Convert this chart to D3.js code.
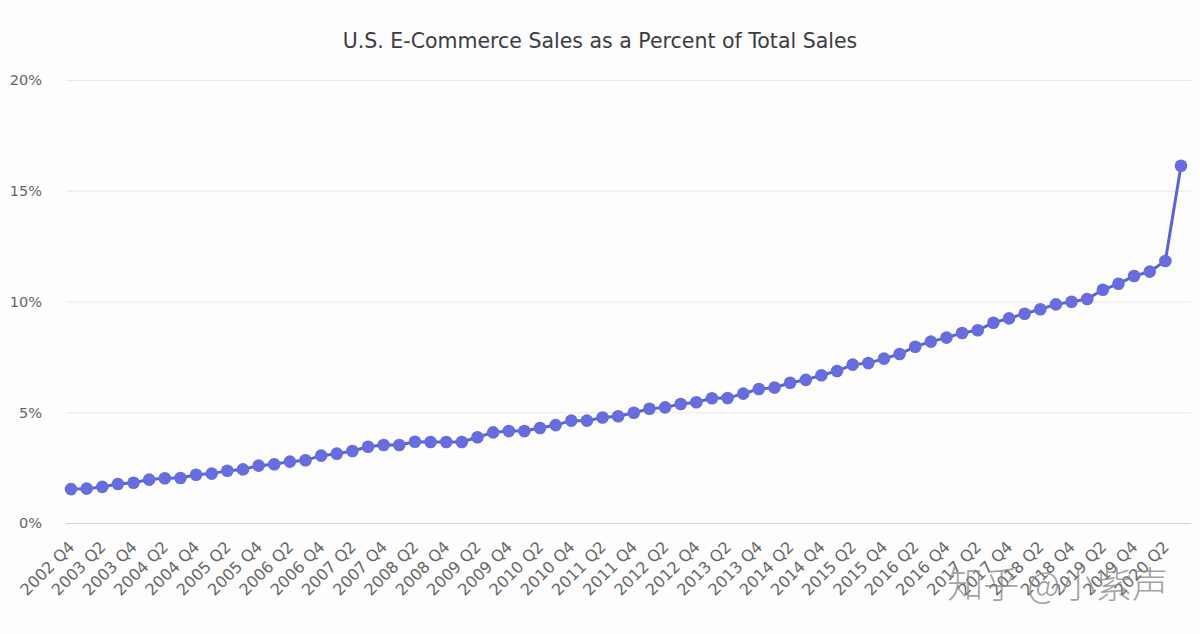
<!DOCTYPE html>
<html>
<head>
<meta charset="utf-8">
<title>U.S. E-Commerce Sales as a Percent of Total Sales</title>
<script src="https://d3js.org/d3.v7.min.js"></script>
<style>
    html, body { margin: 0; padding: 0; background: #fdfdfe; }
    svg { display: block; }
    text { font-family: "DejaVu Sans", sans-serif; }
</style>
</head>
<body>
<div id="svg"></div>
<script>
var titleText = 'U.S. E-Commerce Sales as a Percent of Total Sales';
var watermarkText = '知乎 @小紫声';

var quarters = [
    '2002 Q4',
    '2003 Q1', '2003 Q2', '2003 Q3', '2003 Q4',
    '2004 Q1', '2004 Q2', '2004 Q3', '2004 Q4',
    '2005 Q1', '2005 Q2', '2005 Q3', '2005 Q4',
    '2006 Q1', '2006 Q2', '2006 Q3', '2006 Q4',
    '2007 Q1', '2007 Q2', '2007 Q3', '2007 Q4',
    '2008 Q1', '2008 Q2', '2008 Q3', '2008 Q4',
    '2009 Q1', '2009 Q2', '2009 Q3', '2009 Q4',
    '2010 Q1', '2010 Q2', '2010 Q3', '2010 Q4',
    '2011 Q1', '2011 Q2', '2011 Q3', '2011 Q4',
    '2012 Q1', '2012 Q2', '2012 Q3', '2012 Q4',
    '2013 Q1', '2013 Q2', '2013 Q3', '2013 Q4',
    '2014 Q1', '2014 Q2', '2014 Q3', '2014 Q4',
    '2015 Q1', '2015 Q2', '2015 Q3', '2015 Q4',
    '2016 Q1', '2016 Q2', '2016 Q3', '2016 Q4',
    '2017 Q1', '2017 Q2', '2017 Q3', '2017 Q4',
    '2018 Q1', '2018 Q2', '2018 Q3', '2018 Q4',
    '2019 Q1', '2019 Q2', '2019 Q3', '2019 Q4',
    '2020 Q1', '2020 Q2', '2020 Q3'
];

// 百分比，从图上读的
var percents = [
    1.53,
    1.55, 1.63, 1.76, 1.82,
    1.96, 2.02, 2.03, 2.18,
    2.23, 2.36, 2.42, 2.59,
    2.65, 2.77, 2.83, 3.04,
    3.13, 3.25, 3.44, 3.52,
    3.52, 3.67, 3.66, 3.66,
    3.66, 3.87, 4.09, 4.15,
    4.15, 4.29, 4.42, 4.62,
    4.62, 4.76, 4.82, 4.98,
    5.16, 5.22, 5.37, 5.45,
    5.63, 5.64, 5.84, 6.05,
    6.11, 6.33, 6.46, 6.67,
    6.86, 7.15, 7.22, 7.42,
    7.63, 7.96, 8.19, 8.37,
    8.58, 8.70, 9.04, 9.24,
    9.45, 9.65, 9.87, 9.99,
    10.11, 10.53, 10.80, 11.15,
    11.35, 11.83, 16.13
];

var xTickLabels = quarters.filter(function (d, i) { return i % 2 == 0; });
var yTicks = [0, 5, 10, 15, 20];

var width = 1200;
var height = 634;

var svg = d3.select('#svg')
    .append('svg')
    .attr('width', width + 'px')
    .attr('height', height + 'px');

var xScale = d3.scalePoint()
    .domain(quarters)
    .range([71, 1181]);
var yScale = d3.scaleLinear()
    .domain([0, 20])
    .range([523, 80]);

// 横向网格线和y轴文字
var yAxis = d3.axisLeft()
    .scale(yScale)
    .tickValues(yTicks)
    .tickSize(-1125)
    .tickPadding(24)
    .tickFormat(function (d) { return d + '%'; });
var yGroup = svg.append('g')
    .attr('transform', 'translate(66,0)')
    .call(yAxis);
yGroup.select('.domain').remove();
yGroup.selectAll('line')
    .attr('stroke', function (d) { return d == 0 ? '#d6d6d8' : '#e8e8ec'; })
    .attr('stroke-width', 1.2);
yGroup.selectAll('text')
    .attr('dy', '0.55em')
    .attr('y', -3)
    .attr('font-size', 14.5)
    .attr('fill', '#666');

// x轴文字，隔一个季度一个
var xAxis = d3.axisBottom()
    .scale(xScale)
    .tickValues(xTickLabels)
    .tickSize(0);
var xGroup = svg.append('g')
    .attr('transform', 'translate(0,523)')
    .call(xAxis);
xGroup.select('.domain').remove();
xGroup.selectAll('text')
    .attr('text-anchor', 'end')
    .attr('dx', 0)
    .attr('dy', 0)
    .attr('x', 0)
    .attr('y', 0)
    .attr('transform', 'translate(4,25) rotate(-45)')
    .attr('font-size', 16)
    .attr('fill', '#666');

var linePath = d3.line()
    .x(function (d, i) { return xScale(quarters[i]); })
    .y(function (d) { return yScale(d); });

svg.append('path')
    .attr('d', linePath(percents))
    .attr('fill', 'none')
    .attr('stroke', '#5d63cf')
    .attr('stroke-width', 3);

svg.append('g')
    .selectAll('circle')
    .data(percents)
    .enter()
    .append('circle')
    .attr('cx', function (d, i) { return xScale(quarters[i]); })
    .attr('cy', function (d) { return yScale(d); })
    .attr('r', 6.3)
    .attr('fill', '#676ddd');

svg.append('text')
    .attr('x', 600)
    .attr('y', 48)
    .attr('text-anchor', 'middle')
    .attr('font-size', 20.5)
    .attr('fill', '#3c3c40')
    .text(titleText);

// 水印
svg.append('text')
    .attr('x', 1168)
    .attr('y', 598)
    .attr('text-anchor', 'end')
    .attr('font-size', 36)
    .attr('font-weight', 300)
    .attr('fill', '#8a8a8a')
    .attr('fill-opacity', 0.8)
    .style('font-family', '"Noto Sans CJK SC"')
    .text(watermarkText);
</script>
</body>
</html>
